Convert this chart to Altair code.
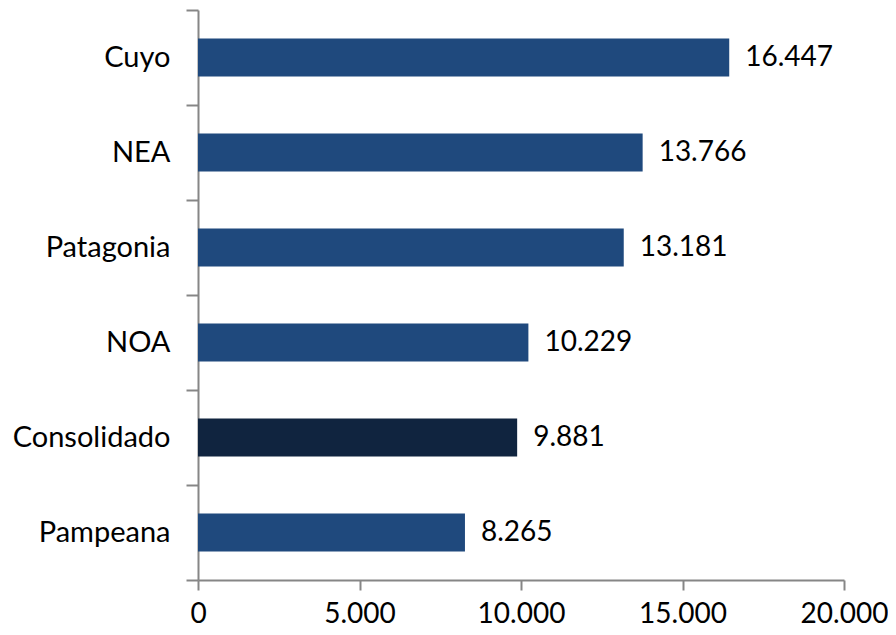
import altair as alt
import pandas as pd

regions = ["Cuyo", "NEA", "Patagonia", "NOA", "Consolidado", "Pampeana"]
values = [16447, 13766, 13181, 10229, 9881, 8265]
highlight = ["Consolidado"]

df = pd.DataFrame({"region": regions, "value": values})
df["group"] = ["Total" if r in highlight else "Región" for r in regions]

FONT = "Lato"

y_enc = alt.Y(
    "region:N",
    sort=regions,
    title=None,
    scale=alt.Scale(paddingInner=0, paddingOuter=0),
    axis=alt.Axis(
        tickBand="extent",
        domainColor="#868686",
        tickColor="#868686",
        domainWidth=2,
        tickWidth=2,
        tickSize=12,
        labelPadding=16,
        labelFont=FONT,
        labelFontSize=29,
        labelColor="#000000",
    ),
)

bars = alt.Chart(df).mark_bar(height={"band": 0.4}).encode(
    x=alt.X(
        "value:Q",
        title=None,
        scale=alt.Scale(domain=[0, 20000], nice=False),
        axis=alt.Axis(
            values=[0, 5000, 10000, 15000, 20000],
            labelExpr="replace(format(datum.value, ','), ',', '.')",
            grid=False,
            domainColor="#868686",
            tickColor="#868686",
            domainWidth=2,
            tickWidth=2,
            tickSize=10,
            labelPadding=10,
            labelFont=FONT,
            labelFontSize=28,
            labelColor="#000000",
            labelFlush=False,
        ),
    ),
    y=y_enc,
    color=alt.Color(
        "group:N",
        scale=alt.Scale(domain=["Región", "Total"], range=["#1F497D", "#10243F"]),
        legend=None,
    ),
)

text = alt.Chart(df).mark_text(
    align="left", baseline="middle", dx=16, font=FONT, fontSize=28, color="#000000"
).transform_calculate(
    label="replace(format(datum.value, ','), ',', '.')"
).encode(
    x="value:Q",
    y=alt.Y("region:N", sort=regions),
    text="label:N",
)

chart = (
    alt.layer(bars, text)
    .properties(
        width=646,
        height=570,
        autosize=alt.AutoSizeParams(type="none"),
        padding={"left": 190, "top": 2, "right": 44, "bottom": 47},
    )
    .configure_view(stroke=None)
)

chart.save("out.html", embed_options={"renderer": "svg", "actions": False})
